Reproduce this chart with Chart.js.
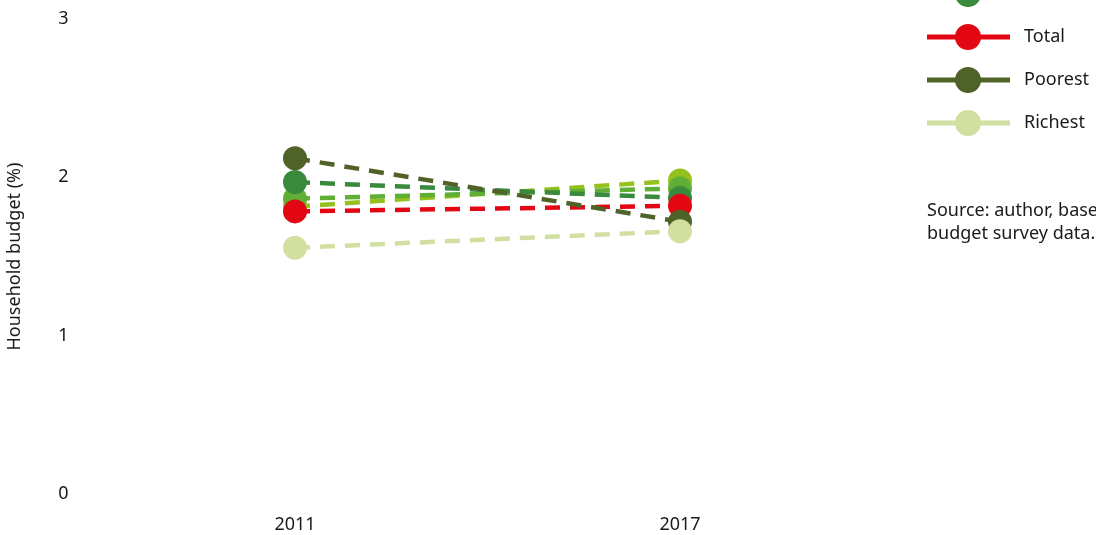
<!DOCTYPE html>
<html>
<head>
<meta charset="utf-8">
<script src="https://cdn.jsdelivr.net/npm/chart.js@4"></script>
<style>
  body { margin: 0; background: #fff; }
  #wrap { width: 1096px; height: 535px; position: relative; }
</style>
</head>
<body>
<div id="wrap"><canvas id="budgetChart"></canvas></div>
<script>
// Data
const years = ["2011", "2017"];
const yTicks = [0, 1, 2, 3];

const fourthQ = [1.815, 1.98];
const thirdQ = [1.865, 1.93];
const secondQ = [1.97, 1.87];
const total = [1.785, 1.82];
const poorest = [2.12, 1.72];
const richest = [1.555, 1.66];

const seriesLabels = ["Fourth quintile", "Third quintile", "Second quintile", "Total", "Poorest", "Richest"];
const seriesColors = ["#95c11f", "#5fae35", "#3a8a3e", "#e30613", "#4f6228", "#d1e0a0"];
const seriesValues = [fourthQ, thirdQ, secondQ, total, poorest, richest];

const fontFamily = "'Noto Sans', 'Open Sans', sans-serif";
const fontSize = 18;

// Datasets, later ones drawn on top
const datasets = seriesValues.map((vals, i) => ({
  label: seriesLabels[i],
  data: vals,
  borderColor: seriesColors[i],
  backgroundColor: seriesColors[i],
  pointBackgroundColor: seriesColors[i],
  pointBorderWidth: 0,
  pointRadius: 12,
  pointHoverRadius: 12,
  borderWidth: 4.5,
  borderDash: [15, 10],
  clip: false,
  order: seriesValues.length - i,
}));

// legend + source note drawn by hand (top of legend runs off the picture)
const sideLegend = {
  id: "sideLegend",
  afterDraw(chart) {
    const ctx = chart.ctx;
    ctx.save();
    const x0 = 927, x1 = 1010, cx = 968;
    const lastY = 123, step = 43;
    const n = seriesLabels.length;
    ctx.font = fontSize + "px " + fontFamily;
    ctx.textBaseline = "middle";
    for (let i = 0; i < n; i++) {
      const y = lastY - (n - 1 - i) * step;
      ctx.strokeStyle = seriesColors[i];
      ctx.lineWidth = 5;
      ctx.setLineDash([]);
      ctx.beginPath();
      ctx.moveTo(x0, y);
      ctx.lineTo(x1, y);
      ctx.stroke();
      ctx.fillStyle = seriesColors[i];
      ctx.beginPath();
      ctx.arc(cx, y, 13, 0, Math.PI * 2);
      ctx.fill();
      ctx.fillStyle = "#1a1a1a";
      ctx.fillText(seriesLabels[i], 1024, y);
    }
    ctx.fillText("Source: author, based on household", 927, 211);
    ctx.fillText("budget survey data.", 927, 234);
    ctx.restore();
  },
};

const config = {
  type: "line",
  data: { labels: years, datasets: datasets },
  options: {
    responsive: true,
    maintainAspectRatio: false,
    animation: false,
    layout: { autoPadding: false, padding: { top: 19, right: 223.5, bottom: 0, left: 0 } },
    plugins: {
      legend: { display: false },
      tooltip: { enabled: false },
    },
    scales: {
      x: {
        offset: true,
        grid: { display: false, drawTicks: false },
        border: { display: false },
        ticks: { color: "#1a1a1a", font: { family: fontFamily, size: fontSize }, padding: 20 },
        afterFit(scale) { scale.height = 41; },
      },
      y: {
        min: 0,
        max: 3,
        afterBuildTicks(scale) { scale.ticks = yTicks.map(v => ({ value: v })); },
        grid: { display: false, drawTicks: false },
        border: { display: false },
        ticks: { color: "#1a1a1a", font: { family: fontFamily, size: fontSize }, padding: 34 },
        title: {
          display: true,
          text: "Household budget (%)",
          color: "#1a1a1a",
          font: { family: fontFamily, size: fontSize },
          padding: { top: 4, bottom: 4 },
        },
        afterFit(scale) {
          scale.width = 102.5;
          scale.paddingTop = 0;
          scale.paddingBottom = 0;
        },
      },
    },
  },
  plugins: [sideLegend],
};

const budgetChart = new Chart(document.getElementById("budgetChart"), config);
</script>
</body>
</html>
